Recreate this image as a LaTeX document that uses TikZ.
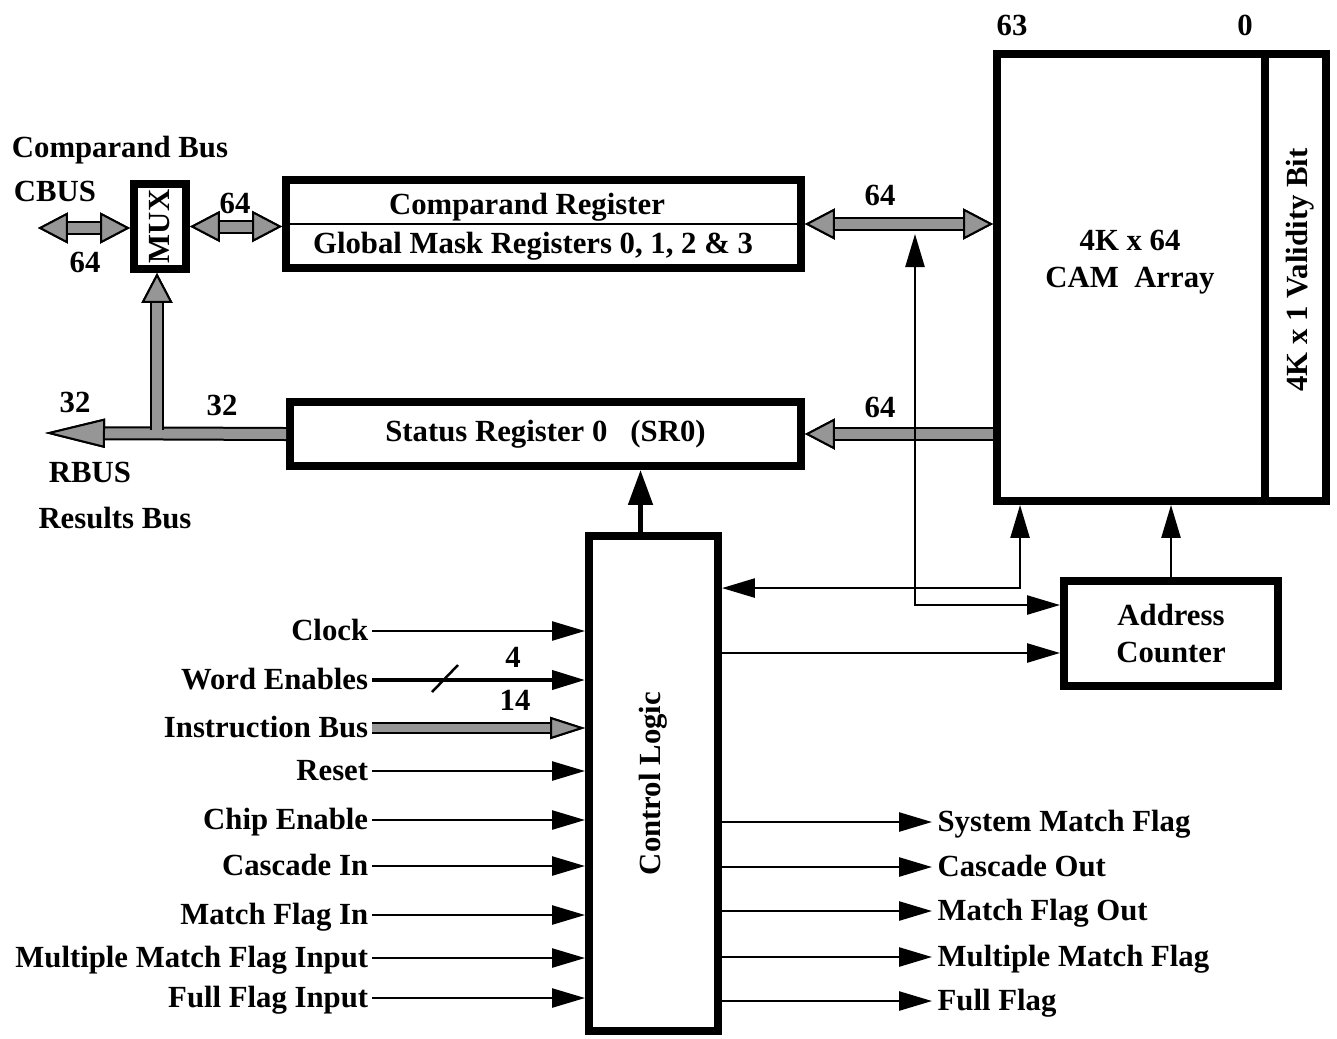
\documentclass[tikz,border=0pt]{standalone}
\usepackage{fontspec}
\setmainfont{Liberation Serif}
\usepackage{graphicx}
\usepackage{tikz}
\usetikzlibrary{arrows.meta, positioning, calc}
\definecolor{cbusgray}{RGB}{150,150,150}

\tikzset{
  blk/.style={draw, line width=0.16cm, inner sep=0pt},
  sigtip/.tip={Triangle[length=0.66cm, width=0.38cm]},
  sig/.style={line width=0.05cm, -{sigtip}},
  bustip/.tip={Triangle[length=0.6cm, width=0.62cm, color=black, fill=cbusgray, line width=0.04cm]},
  rbustip/.tip={Triangle[length=1.2cm, width=0.58cm, color=black, fill=cbusgray, line width=0.04cm]},
  ibustip/.tip={Triangle[length=0.7cm, width=0.44cm, color=black, fill=cbusgray, line width=0.04cm]},
  bus/.style={draw=cbusgray, line width=0.2cm, preaction={draw=black, line width=0.28cm}},
  ibus/.style={draw=cbusgray, line width=0.16cm, preaction={draw=black, line width=0.24cm}},
  inlbl/.style={anchor=east, inner sep=2pt, text height=0.42cm, text depth=0.06cm},
  outlbl/.style={anchor=west, inner sep=3pt, text height=0.42cm, text depth=0.06cm}
}

\begin{document}
\begin{tikzpicture}[x=0.02cm, y=-0.02cm, font=\fontsize{17.5}{21}\selectfont\bfseries]
  \useasboundingbox (0,0) rectangle (1337,1038);

  % blocks
  \node[blk, minimum width=1.04cm, minimum height=1.70cm] (mux) at (160,226.5) {\rotatebox{90}{MUX}};
  \node[blk, minimum width=10.3cm, minimum height=1.76cm] (cr) at (543.5,224) {};
  \draw[line width=0.04cm] (cr.west) -- (cr.east);
  \node (crtop) at (527,207) {Comparand Register};
  \node (crbot) at (533,246) {Global Mask Registers 0, 1, 2 \& 3};
  \node[blk, minimum width=10.22cm, minimum height=1.28cm] (sr) at (545.5,434) {Status Register 0\ \ \ (SR0)};
  \node[blk, minimum width=6.58cm, minimum height=8.94cm] (cam) at (1161.5,277.5) {};
  \draw[line width=0.16cm] (1265,54) -- (1265,501);
  \node[align=center] (camtxt) at (1130,262) {4K x 64\\CAM\ \ Array};
  \node (valid) at (1300,270) {\rotatebox{90}{4K x 1 Validity Bit}};
  \node (b63) at (1012,25) {63};
  \node (b0) at (1245,25) {0};
  \node[blk, minimum width=2.58cm, minimum height=9.9cm] (ctl) at (653.5,783.5) {\rotatebox{90}{Control Logic}};
  \node[blk, minimum width=4.28cm, minimum height=2.1cm, align=center] (ac) at (1171,633.5) {Address\\Counter};

  % buses
  \coordinate (cbus) at (38,228);
  \draw[bus, {bustip}-{bustip}] (cbus) -- (cbus -| mux.west);
  \draw[bus, {bustip}-{bustip}] (mux.east) -- (mux.east -| cr.west);
  \draw[bus, {bustip}-{bustip}] (cr.east) -- (cr.east -| cam.west);
  \draw[bus, -{bustip}] (sr.east -| cam.west) -- (sr.east);
  \coordinate (rbus) at (45,433);
  \draw[bus, -{rbustip}] (sr.west) -- (rbus);
  \coordinate (tee) at (157,430);
  \draw[bus, -{bustip}] (tee) -- (tee |- mux.south);

  \node (cbusn) at (120,150) {Comparand Bus};
  \node (cbusl) at (55,191) {CBUS};
  \node (n64a) at (85,262) {64};
  \node (n64b) at (235,203) {64};
  \node (n64c) at (880,195) {64};
  \node (n64d) at (880,407) {64};
  \node (n32a) at (75,402) {32};
  \node (n32b) at (222,405) {32};
  \node (rbusl) at (90,472) {RBUS};
  \node (rbusn) at (115,518) {Results Bus};

  % control paths
  \coordinate (tap) at (915,234);
  \draw[sig, {sigtip}-{sigtip}] (tap) |- ([yshift=0.57cm]ac.west);
  \draw[sig, {sigtip}-{sigtip}] ([yshift=-1.12cm]ctl.north east) -| ([xshift=0.54cm]cam.south west);
  \draw[sig] (ac.north) -- (ac.north |- cam.south);
  \coordinate (acin) at ([yshift=-0.39cm]ac.west);
  \draw[sig] (ctl.east |- acin) -- (acin);
  \draw[line width=0.1cm, -{Triangle[length=0.7cm, width=0.48cm]}] ([xshift=-0.26cm]ctl.north) -- ([xshift=-0.26cm]ctl.north |- sr.south);

  % inputs
  \node[inlbl] (we) at (372,680) {Word Enables};
  \draw[line width=0.08cm, -{sigtip}] (we.east) -- (we.east -| ctl.west);
  \draw[line width=0.05cm] (432,692) -- (458,665);
  \node (n4) at (513,657) {4};
  \node[inlbl] (ib) at (372,728) {Instruction Bus};
  \draw[ibus, -{ibustip}] (ib.east) -- (ib.east -| ctl.west);
  \node (n14) at (515,700) {14};
  \foreach \n/\y/\t in {clk/631/Clock, rst/771/Reset, ce/820/Chip Enable, csin/866/Cascade In,
      mfin/915/Match Flag In, mmin/958/Multiple Match Flag Input, ffin/998/Full Flag Input} {
    \node[inlbl] (\n) at (372,\y) {\t};
    \draw[sig] (\n.east) -- (\n.east -| ctl.west);
  }

  % outputs
  \foreach \n/\y/\t in {smf/822/System Match Flag, cso/867/Cascade Out, mfo/911/Match Flag Out,
      mmf/957/Multiple Match Flag, ff/1001/Full Flag} {
    \node[outlbl] (\n) at (932,\y) {\t};
    \draw[sig] (ctl.east |- \n.west) -- (\n.west);
  }
\end{tikzpicture}
\end{document}
